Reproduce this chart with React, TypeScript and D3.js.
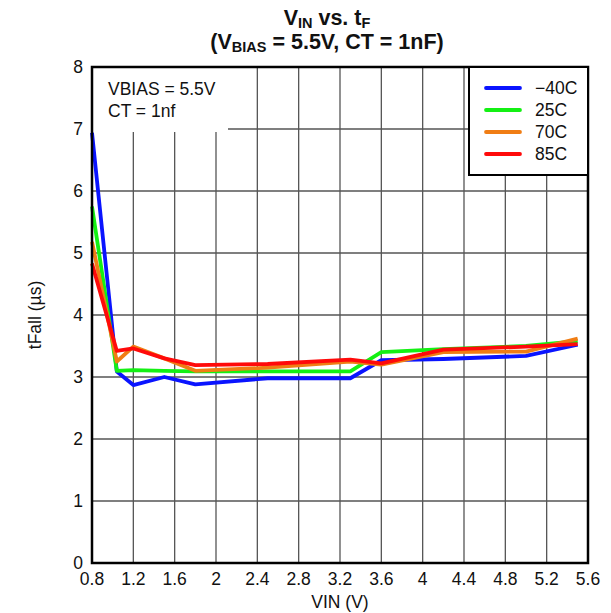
import React from "react";
import * as d3 from "d3";

const vin = [0.8, 1.04, 1.2, 1.5, 1.8, 2.5, 3.3, 3.6, 4.2, 5.0, 5.5];
const tM40 = [6.94, 3.09, 2.87, 3.0, 2.88, 2.98, 2.98, 3.27, 3.29, 3.34, 3.52];
const t25 = [5.75, 3.1, 3.11, 3.1, 3.09, 3.09, 3.09, 3.4, 3.45, 3.5, 3.58];
const t70 = [5.18, 3.25, 3.49, 3.3, 3.1, 3.15, 3.25, 3.2, 3.4, 3.41, 3.62];
const t85 = [4.83, 3.42, 3.46, 3.3, 3.19, 3.21, 3.28, 3.22, 3.44, 3.49, 3.53];

const seriesNames = ["\u221240C", "25C", "70C", "85C"];
const seriesData = [tM40, t25, t70, t85];
const seriesColors = ["#0a14ff", "#14f014", "#f07d14", "#ff0a0a"];

const xTicks = [0.8, 1.2, 1.6, 2, 2.4, 2.8, 3.2, 3.6, 4, 4.4, 4.8, 5.2, 5.6];
const yTicks = [0, 1, 2, 3, 4, 5, 6, 7, 8];

const W = 611;
const H = 613;
const L = 92, R = 588, T = 67, B = 563;
const FONT = "'Liberation Sans', Arial, Helvetica, sans-serif";
const FS = 17.5;

export default function App() {
  const x = d3.scaleLinear().domain([0.8, 5.6]).range([L, R]);
  const y = d3.scaleLinear().domain([0, 8]).range([B, T]);
  const line = d3
    .line<number>()
    .x((_, i) => x(vin[i]))
    .y((d) => y(d));

  return (
    <svg width={W} height={H} style={{ position: "absolute", left: 0, top: 0, background: "#fff" }} fontFamily={FONT}>
      <rect x={0} y={0} width={W} height={H} fill="#fff" />
      {/* grid */}
      {xTicks.slice(1, -1).map((t) => (
        <line key={"gx" + t} x1={x(t)} x2={x(t)} y1={T} y2={B} stroke="#555" strokeWidth={1.3} />
      ))}
      {yTicks.slice(1, -1).map((t) => (
        <line key={"gy" + t} x1={L} x2={R} y1={y(t)} y2={y(t)} stroke="#555" strokeWidth={1.3} />
      ))}
      {/* annotation box */}
      <rect x={L} y={T} width={228 - L} height={132 - T} fill="#fff" />
      <text x={108} y={95} fontSize={FS} fill="#111">VBIAS = 5.5V</text>
      <text x={108} y={117} fontSize={FS} fill="#111">CT = 1nf</text>
      {/* series */}
      {seriesData.map((s, i) => (
        <path key={i} d={line(s) || ""} fill="none" stroke={seriesColors[i]} strokeWidth={3.8} strokeLinejoin="round" />
      ))}
      {/* frame */}
      <rect x={L} y={T} width={R - L} height={B - T} fill="none" stroke="#000" strokeWidth={2.5} />
      {/* legend */}
      <rect x={469} y={T} width={R - 469} height={175 - T} fill="#fff" stroke="#000" strokeWidth={2} />
      {seriesNames.map((n, i) => (
        <g key={n}>
          <line x1={486} x2={520} y1={88 + i * 22} y2={88 + i * 22} stroke={seriesColors[i]} strokeWidth={3.8} strokeLinecap="round" />
          <text x={535} y={94 + i * 22} fontSize={FS} fill="#111">{n}</text>
        </g>
      ))}
      {/* ticks */}
      {yTicks.map((t) => (
        <text key={"yt" + t} x={83} y={y(t) + 6} fontSize={FS} textAnchor="end" fill="#111">{t}</text>
      ))}
      {xTicks.map((t) => (
        <text key={"xt" + t} x={x(t)} y={585} fontSize={FS} textAnchor="middle" fill="#111">{t}</text>
      ))}
      <text x={340} y={608} fontSize={FS} textAnchor="middle" fill="#111">VIN (V)</text>
      <text transform={`translate(41,${(T + B) / 2}) rotate(-90)`} fontSize={FS} textAnchor="middle" fill="#111">tFall (µs)</text>
      {/* title */}
      <text x={327} y={25} fontSize={21.5} fontWeight="bold" textAnchor="middle" fill="#111">
        V<tspan fontSize={14.5} baselineShift="-3">IN</tspan> vs. t<tspan fontSize={14.5} baselineShift="-3">F</tspan>
      </text>
      <text x={327} y={49} fontSize={21.5} fontWeight="bold" textAnchor="middle" fill="#111">
        (V<tspan fontSize={14.5} baselineShift="-3">BIAS</tspan> = 5.5V, CT = 1nF)
      </text>
    </svg>
  );
}
